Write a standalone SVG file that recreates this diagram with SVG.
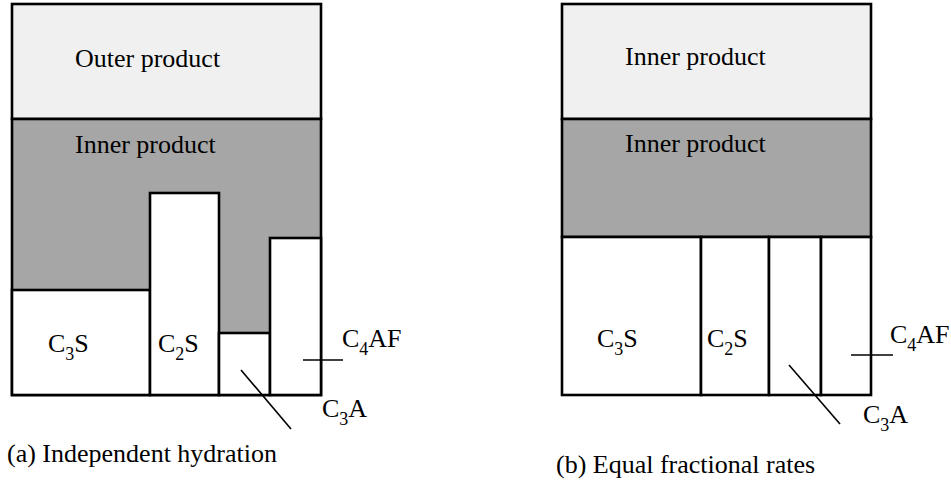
<svg xmlns="http://www.w3.org/2000/svg" width="951" height="484" viewBox="0 0 951 484">
<style>
  text { font-family: "Liberation Serif", "Times New Roman", serif; font-size: 26px; fill: #000; }
  .sub { font-size: 18px; }
  .box { stroke: #000; stroke-width: 2.6; }
  .light { fill: #f0f0f0; }
  .dark { fill: #a6a6a6; }
  .white { fill: #fff; }
  .lead { stroke: #000; stroke-width: 1.6; fill: none; }
</style>
<rect width="951" height="484" fill="#fff"/>

<!-- Panel (a) -->
<g id="a-outer-product">
  <rect class="box light" x="12" y="4" width="309" height="115"/>
  <text x="75" y="67">Outer product</text>
</g>
<g id="a-inner-product">
  <rect class="box dark" x="12" y="119" width="309" height="276"/>
  <text x="75" y="153">Inner product</text>
</g>
<g id="a-C3S">
  <rect class="box white" x="12" y="290" width="138" height="105"/>
  <text x="48" y="352">C<tspan class="sub" dy="8">3</tspan><tspan dy="-8">S</tspan></text>
</g>
<g id="a-C2S">
  <rect class="box white" x="150" y="193" width="69" height="202"/>
  <text x="158" y="352">C<tspan class="sub" dy="8">2</tspan><tspan dy="-8">S</tspan></text>
</g>
<g id="a-C3A">
  <rect class="box white" x="219" y="333" width="51" height="62"/>
  <text x="322" y="417">C<tspan class="sub" dy="8">3</tspan><tspan dy="-8">A</tspan></text>
</g>
<g id="a-C4AF">
  <rect class="box white" x="270" y="238" width="51" height="157"/>
  <text x="342" y="347">C<tspan class="sub" dy="8">4</tspan><tspan dy="-8">AF</tspan></text>
</g>
<g id="a-caption">
  <text x="7" y="462">(a) Independent hydration</text>
</g>

<!-- Panel (b) -->
<g id="b-inner-product-outer">
  <rect class="box light" x="562" y="4" width="309" height="115"/>
  <text x="625" y="65">Inner product</text>
</g>
<g id="b-inner-product">
  <rect class="box dark" x="562" y="119" width="309" height="118"/>
  <text x="625" y="152">Inner product</text>
</g>
<g id="b-C3S">
  <rect class="box white" x="562" y="237" width="139" height="158"/>
  <text x="597" y="347">C<tspan class="sub" dy="8">3</tspan><tspan dy="-8">S</tspan></text>
</g>
<g id="b-C2S">
  <rect class="box white" x="701" y="237" width="68" height="158"/>
  <text x="707" y="347">C<tspan class="sub" dy="8">2</tspan><tspan dy="-8">S</tspan></text>
</g>
<g id="b-C3A">
  <rect class="box white" x="769" y="237" width="52" height="158"/>
  <text x="863" y="423">C<tspan class="sub" dy="8">3</tspan><tspan dy="-8">A</tspan></text>
</g>
<g id="b-C4AF">
  <rect class="box white" x="821" y="237" width="50" height="158"/>
  <text x="890" y="343">C<tspan class="sub" dy="8">4</tspan><tspan dy="-8">AF</tspan></text>
</g>
<g id="b-caption">
  <text x="556" y="473">(b) Equal fractional rates</text>
</g>

<g id="connectors">
  <line class="lead" x1="303" y1="360" x2="343" y2="360"/>
  <line class="lead" x1="241" y1="370" x2="291" y2="429"/>
  <line class="lead" x1="851" y1="355" x2="893" y2="355"/>
  <line class="lead" x1="789" y1="365" x2="840" y2="424"/>
</g>
</svg>
